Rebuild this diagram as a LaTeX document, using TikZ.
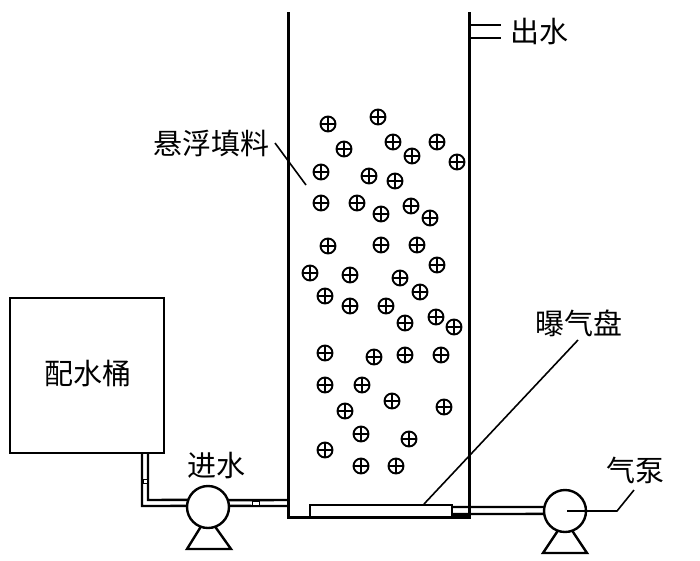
\documentclass[tikz,border=0pt]{standalone}
\usepackage{fontspec}
\newfontfamily\cjk{Noto Sans CJK SC}
\begin{document}
\begin{tikzpicture}[x=1pt,y=-1pt,line width=2.4pt,
    wall/.style={line width=3pt},
    lead/.style={line width=1.6pt},
    lbl/.style={font=\cjk\fontsize{29}{29}\selectfont,inner sep=0pt},
    pump/.style={circle,draw,fill=white,minimum size=42pt,inner sep=0pt,outer sep=0pt},
    bead/.style={circle,draw,line width=1.9pt,minimum size=15pt,inner sep=0pt,
      path picture={\draw[line width=1.6pt] (path picture bounding box.north)--(path picture bounding box.south)
        (path picture bounding box.west)--(path picture bounding box.east);}}]
  \useasboundingbox (0,0) rectangle (700,560);
  % reactor column
  \coordinate (lt) at (288,12); \coordinate (lb) at (288,517);
  \coordinate (rt) at (469,12); \coordinate (rb) at (469,517);
  \draw[wall] (lt)--(lb)--(rb)--(rt);
  % outlet
  \coordinate (o1) at (501,25); \coordinate (o2) at (501,38);
  \draw[lead] (469,25)--(o1) (469,38)--(o2);
  \node[lbl] (outlbl) at (539.5,32) {出水};
  % carriers
  \foreach \x/\y [count=\i] in {328/124,378/117,344/149,393/142,412/156,437/142,457/162,321/172,369/176,395/181,
    321/203,357/203,381/214,411/206,430/218,328/246,381/245,417/245,437/265,310/273,350/275,400/278,
    325/296,350/306,386/306,420/292,405/323,436/317,454/327,325/353,374/357,405/355,441/355,
    325/385,362/385,392/401,345/411,444/407,361/434,409/439,325/450,361/466,396/466}
    \node[bead] (b\i) at (\x,\y) {};
  \node[lbl] (carlbl) at (211.5,143) {悬浮填料};
  \coordinate (c1) at (275,143); \coordinate (c2) at (306,185);
  \draw[lead] (c1)--(c2);
  % tank
  \node[draw,line width=2.8pt,minimum width=154pt,minimum height=155pt,inner sep=0pt,outer sep=0pt] (tank) at (87,375.5) {};
  \node[lbl] (tanklbl) at (87.5,373) {配水桶};
  % inlet pump
  \node[pump] (inpump) at (208,507) {};
  \node[lbl] (inlbl) at (216,466) {进水};
  \draw (inpump.250)--(187,549)--(231,549)--(inpump.290);
  \draw (142,453)--(142,506)--(inpump.177) (148,453)--(148,500)--(inpump.160.5);
  \draw (inpump.19.5)--(288,500) (inpump.3)--(288,506);
  \node[draw,line width=1pt,fill=white,minimum size=4pt,inner sep=0pt] (v1) at (145.5,481) {};
  \node[draw,line width=1pt,fill=white,minimum width=7pt,minimum height=4pt,inner sep=0pt] (v2) at (256,503) {};
  % aeration disc
  \node[draw,fill=white,minimum width=142pt,minimum height=12pt,inner sep=0pt,outer sep=0pt] (disc) at (381,511) {};
  \node[lbl] (disclbl) at (578.5,323) {曝气盘};
  \coordinate (d1) at (578,340); \coordinate (d2) at (424,504);
  \draw[lead] (d1)--(d2);
  % air pump
  \node[pump] (airpump) at (565,511) {};
  \node[lbl] (airlbl) at (635,470) {气泵};
  \draw (airpump.250)--(543,553)--(587,553)--(airpump.290);
  \draw (disc.east |- 0,507)--(airpump.169) (disc.east |- 0,514)--(airpump.188.2);
  \fill (452,514) rectangle (470,518);
  \coordinate (a1) at (617,511); \coordinate (a2) at (634,490);
  \draw[lead] (567,511)--(a1)--(a2);
\end{tikzpicture}
\end{document}
